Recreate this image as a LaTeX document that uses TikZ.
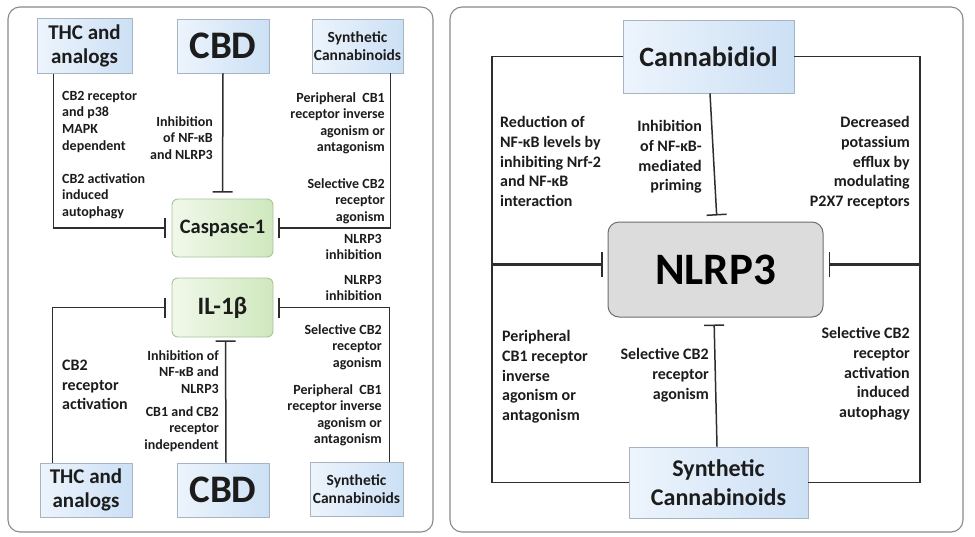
\documentclass[tikz,border=0pt]{standalone}
\usepackage{fontspec}
\setmainfont{Carlito}
\usetikzlibrary{arrows.meta}
\definecolor{txt}{HTML}{1C1C1C}
\definecolor{ln}{HTML}{2E2E2E}
\definecolor{frame}{HTML}{8A8A8A}
\definecolor{blueL}{HTML}{EDF4FC}
\definecolor{blueR}{HTML}{CCE0F5}
\definecolor{blueB}{HTML}{A7B4C2}
\definecolor{greenL}{HTML}{F1F8EA}
\definecolor{greenR}{HTML}{CFE8BE}
\definecolor{greenB}{HTML}{A9C49A}
\definecolor{grayF}{HTML}{DCDCDC}
\definecolor{grayB}{HTML}{6E6E6E}
\begin{document}
\begin{tikzpicture}[x=1pt,y=-1pt,
  panel/.style={draw=frame, line width=1.1pt, rounded corners=12pt},
  bluebox/.style={draw=blueB, line width=0.9pt, left color=blueL, right color=blueR, inner sep=0pt, align=center, text=txt, font=\bfseries},
  greenbox/.style={draw=greenB, line width=0.9pt, left color=greenL, right color=greenR, rounded corners=6pt, inner sep=0pt, align=center, text=txt, font=\bfseries},
  graybox/.style={draw=grayB, line width=1pt, fill=grayF, rounded corners=11pt, inner sep=0pt, align=center, text=black, font=\bfseries},
  con/.style={draw=ln, line width=1.5pt},
  inh/.style={con, -{Bar[width=20pt,line width=1.5pt]}},
  inhbig/.style={draw=ln, line width=3pt, -{Bar[width=25pt,line width=1.6pt]}},
  lblS/.style={inner sep=0pt, text=txt, font=\fontsize{14}{16.6}\selectfont\bfseries},
  lblM/.style={inner sep=0pt, text=txt, font=\fontsize{16}{19.6}\selectfont\bfseries},
  lbl/.style={inner sep=0pt, text=txt, font=\fontsize{16}{19.8}\selectfont\bfseries}
]
\useasboundingbox (0,0) rectangle (975,536);
\fill[white] (0,0) rectangle (975,536);

% panels
\draw[panel] (8,7) rectangle (433,532);
\draw[panel] (450,7) rectangle (963,532);

% ---------- left panel nodes ----------
\node[bluebox, minimum width=95pt, minimum height=55pt, font=\fontsize{21}{24}\selectfont\bfseries] (thcT) at (84.5,46) {THC and\\analogs};
\node[bluebox, minimum width=92pt, minimum height=54pt, font=\fontsize{39}{42}\selectfont\bfseries] (cbdT) at (223,46) {CBD};
\node[bluebox, minimum width=91pt, minimum height=54pt, font=\fontsize{15.5}{18.5}\selectfont\bfseries] (synT) at (357.5,46) {Synthetic\\Cannabinoids};

\node[greenbox, minimum width=101pt, minimum height=58pt, font=\fontsize{20.5}{24}\selectfont\bfseries] (casp) at (222.5,228) {Caspase-1};
\node[greenbox, minimum width=101pt, minimum height=59pt, font=\fontsize{25}{28}\selectfont\bfseries] (il) at (222.5,307.5) {IL-1β};

\node[bluebox, minimum width=92pt, minimum height=54pt, font=\fontsize{21}{24}\selectfont\bfseries] (thcB) at (86,490) {THC and\\analogs};
\node[bluebox, minimum width=92pt, minimum height=54pt, font=\fontsize{39}{42}\selectfont\bfseries] (cbdB) at (223,490) {CBD};
\node[bluebox, minimum width=93pt, minimum height=54pt, font=\fontsize{15.5}{18.5}\selectfont\bfseries] (synB) at (356.5,489) {Synthetic\\Cannabinoids};

% left panel connectors
\draw[inh, shorten >=6pt] ([xshift=17pt]thcT.south west) |- (casp.west);
\draw[inh, shorten >=6pt] (cbdT.south) -- (casp.north);
\draw[inh, shorten >=5pt] ([xshift=-13pt]synT.south east) |- (casp.east);
\draw[inh, shorten >=6pt] ([xshift=13pt]thcB.north west) |- (il.west);
\draw[inh, shorten >=3pt] ([xshift=3pt]cbdB.north) -- ([xshift=3pt]il.south);
\draw[inh, shorten >=5pt] ([xshift=-14pt]synB.north east) |- (il.east);

% left panel labels
\node[lblS, anchor=north west, align=left] (l1) at (62,91) {CB2 receptor\\and p38\\MAPK\\dependent};
\node[lblS, anchor=north west, align=left] (l2) at (62,173) {CB2 activation\\induced\\autophagy};
\node[lblS, anchor=north east, align=right] (l3) at (213,116) {Inhibition\\of NF-κB\\and NLRP3};
\node[lblS, anchor=north east, align=right] (l4) at (385,92) {Peripheral\ \ CB1\\receptor inverse\\agonism or\\antagonism};
\node[lblS, anchor=north east, align=right] (l5) at (385,178) {Selective CB2\\receptor\\agonism};
\node[lblS, anchor=north east, align=right] (l6) at (382,234) {NLRP3\\inhibition};
\node[lblS, anchor=north east, align=right] (l7) at (382,275) {NLRP3\\inhibition};
\node[lblS, anchor=north east, align=right] (l8) at (382,324) {Selective CB2\\receptor\\agonism};
\node[lblS, anchor=north east, align=right] (l9) at (382,384) {Peripheral\ \ CB1\\receptor inverse\\agonism or\\antagonism};
\node[lblM, anchor=north west, align=left] (l10) at (62,360) {CB2\\receptor\\activation};
\node[lblS, anchor=north east, align=right] (l11) at (219,350) {Inhibition of\\NF-κB and\\NLRP3};
\node[lblS, anchor=north east, align=right] (l12) at (219,406) {CB1 and CB2\\receptor\\independent};

% ---------- right panel nodes ----------
\node[bluebox, minimum width=171pt, minimum height=73pt, font=\fontsize{28}{32}\selectfont\bfseries] (cann) at (708.5,56.5) {Cannabidiol};
\node[graybox, minimum width=215pt, minimum height=95pt, font=\fontsize{45}{50}\selectfont\bfseries] (nlrp) at (715.5,269.5) {NLRP3};
\node[bluebox, minimum width=179pt, minimum height=71pt, font=\fontsize{24}{29}\selectfont\bfseries] (synR) at (718.5,482.5) {Synthetic\\Cannabinoids};

\coordinate (lx) at (492,0);
\coordinate (rx) at (920,0);

% right panel connectors
\draw[con] (cann.west) -- (cann.west -| lx) -- (synR.west -| lx) -- (synR.west);
\draw[con] (cann.east) -- (cann.east -| rx) -- (synR.east -| rx) -- (synR.east);
\draw[inhbig, shorten >=5pt] ([yshift=5pt]nlrp.west -| lx) -- ([yshift=5pt]nlrp.west);
\draw[inhbig, shorten >=5pt] ([yshift=5pt]nlrp.east -| rx) -- ([yshift=5pt]nlrp.east);
\draw[inh, shorten >=6pt] ([xshift=1.5pt]cann.south) -- ([xshift=1.5pt]nlrp.north);
\draw[inh, shorten >=7pt] ([xshift=-1.5pt]synR.north) -- ([xshift=-1.5pt]nlrp.south);

% right panel labels
\node[lbl, anchor=north west, align=left] (r1) at (500,116) {Reduction of\\NF-κB levels by\\inhibiting Nrf-2\\and NF-κB\\interaction};
\node[lbl, anchor=north east, align=right] (r2) at (702,120) {Inhibition\\of NF-κB-\\mediated\\priming};
\node[lbl, anchor=north east, align=right] (r3) at (910,116) {Decreased\\potassium\\efflux by\\modulating\\P2X7 receptors};
\node[lbl, anchor=north west, align=left] (r4) at (502,330) {Peripheral\\CB1 receptor\\inverse\\agonism or\\antagonism};
\node[lbl, anchor=north east, align=right] (r5) at (709,348) {Selective CB2\\receptor\\agonism};
\node[lbl, anchor=north east, align=right] (r6) at (910,327) {Selective CB2\\receptor\\activation\\induced\\autophagy};
\end{tikzpicture}
\end{document}
